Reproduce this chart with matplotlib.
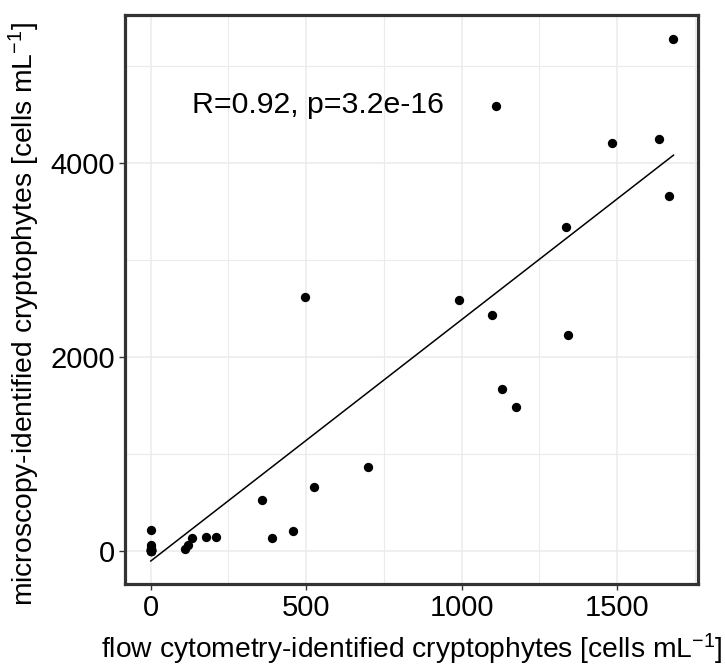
import numpy as np
import matplotlib
matplotlib.use("Agg")
import matplotlib.pyplot as plt

plt.rcParams['font.family'] = ['Liberation Sans', 'DejaVu Sans']
plt.rcParams['mathtext.fontset'] = 'custom'
plt.rcParams['mathtext.rm'] = 'Liberation Sans'
plt.rcParams['mathtext.it'] = 'Liberation Sans:italic'
plt.rcParams['mathtext.default'] = 'regular'

## cryptophyte counts, flow cytometry vs microscopy (many samples sit at the origin)
flow_cells = [0, 0, 0, 0, 0, 0, 0, 0, 0, 0, 0, 0, 0, 0, 0, 0,
              110, 121, 132, 177, 210, 359, 389, 457, 497, 525,
              700, 992, 1097, 1112, 1131, 1176, 1336, 1343, 1485, 1634, 1666, 1682]
micro_cells = [216, 62, 28, 0, 0, 5, 10, 15, 20, 10, 5, 0, 10, 15, 20, 10,
               17, 62, 131, 141, 148, 526, 137, 210, 2619, 663,
               869, 2591, 2436, 4584, 1670, 1485, 3340, 2224, 4206, 4251, 3663, 5278]
cor_label = 'R=0.92, p=3.2e-16'

xvals = np.array(flow_cells, dtype=float)
yvals = np.array(micro_cells, dtype=float)
slope, icept = np.polyfit(xvals, yvals, 1)
xfit = np.array([xvals.min(), xvals.max()])
yfit = icept + slope * xfit

fig = plt.figure(figsize=(7.25, 6.69), dpi=100)
ax = fig.add_axes([0.1724, 0.1271, 0.7904, 0.8505])

ax.scatter(xvals, yvals, s=45, c='black', zorder=3, linewidths=0)
ax.plot(xfit, yfit, c='black', lw=1.1, zorder=2)
ax.text(133, 4600, cor_label, fontsize=21.8, ha='left', va='center')

ax.set_xlim(-83, 1761)
ax.set_ylim(-340, 5526)
ax.set_xticks([0, 500, 1000, 1500])
ax.set_xticks([250, 750, 1250, 1750], minor=True)
ax.set_yticks([0, 2000, 4000])
ax.set_yticks([1000, 3000, 5000], minor=True)
ax.grid(True, which='major', color='#ebebeb', lw=1.1)
ax.grid(True, which='minor', color='#ebebeb', lw=0.8)
ax.set_axisbelow(True)
ax.tick_params(which='major', length=4, width=1, color='#333333',
               labelsize=21, labelcolor='black', pad=3)
ax.tick_params(which='minor', length=0)
for sp in ax.spines.values():
    sp.set_color('#333333')
    sp.set_linewidth(2.3)

ax.set_xlabel('flow cytometry-identified cryptophytes [cells mL$^{-1}$]',
              fontsize=20.3, va='baseline')
ax.set_ylabel('microscopy-identified cryptophytes [cells mL$^{-1}$]',
              fontsize=20.3, va='baseline')
ax.xaxis.set_label_coords(0.5, -0.130)
ax.yaxis.set_label_coords(-0.1606, 0.4736)

fig.savefig('out.png', dpi=100)
